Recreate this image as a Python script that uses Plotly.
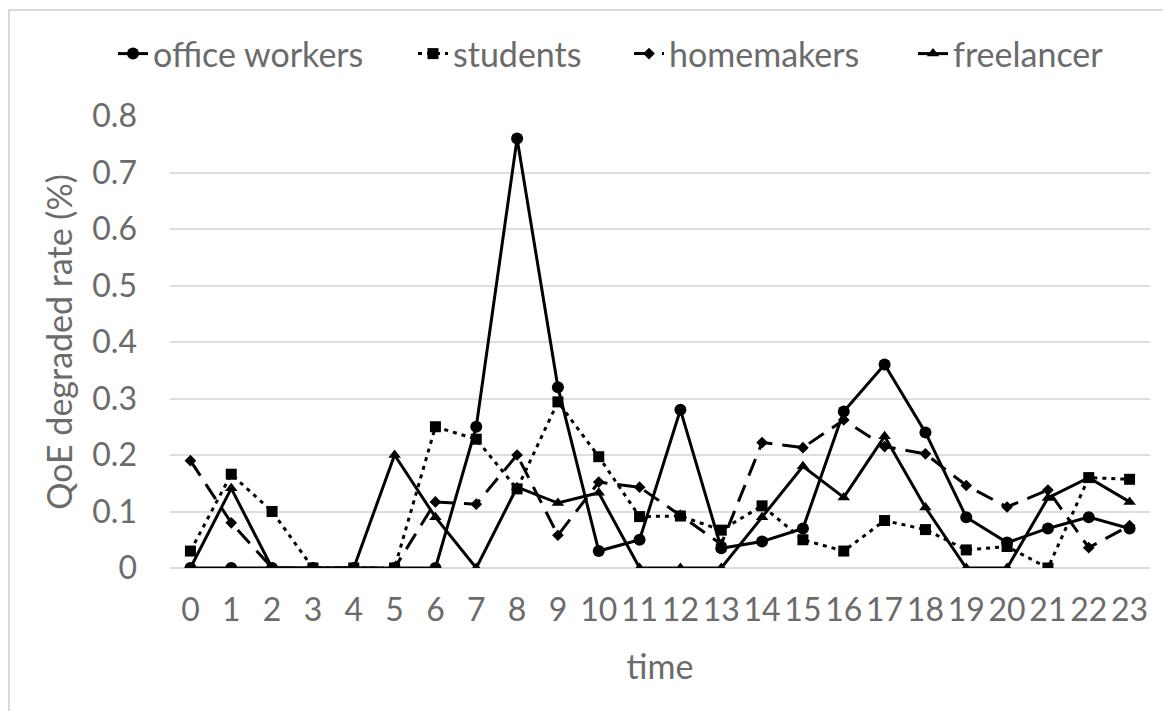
import plotly.graph_objects as go

# Hour of day (category axis)
hours = [str(h) for h in range(24)]

# QoE degraded rate (%) per user group
office_workers = [0, 0, 0, 0, 0, 0, 0, 0.25, 0.76, 0.32, 0.03, 0.05,
                  0.28, 0.035, 0.047, 0.07, 0.277, 0.36, 0.24, 0.09, 0.045, 0.07, 0.09, 0.07]
students = [0.03, 0.166, 0.1, 0, 0, 0, 0.25, 0.228, 0.14, 0.294, 0.197, 0.091,
            0.092, 0.067, 0.11, 0.05, 0.03, 0.084, 0.068, 0.032, 0.038, 0, 0.16, 0.157]
homemakers = [0.19, 0.08, 0, 0, 0, 0, 0.117, 0.113, 0.2, 0.058, 0.152, 0.143,
              0.093, 0.042, 0.222, 0.213, 0.262, 0.215, 0.202, 0.146, 0.108, 0.138, 0.036, 0.075]
freelancer = [0, 0.141, 0, 0, 0, 0.2, 0.09, 0, 0.143, 0.115, 0.133, 0,
              0, 0, 0.09, 0.18, 0.125, 0.233, 0.107, 0, 0, 0.124, 0.16, 0.117]

y_ticks = [0, 0.1, 0.2, 0.3, 0.4, 0.5, 0.6, 0.7, 0.8]
y_tick_text = ["0", "0.1", "0.2", "0.3", "0.4", "0.5", "0.6", "0.7", "0.8"]

INK = "black"
TEXT = "#6b6b6b"
GRID = "#dedede"
FONT = "Lato, 'Open Sans', sans-serif"
W, H = 1163, 711

# name, values, dash, marker symbol, marker size, legend id, legend left edge (px)
series = [
    ("office workers", office_workers, "solid", "circle", 12, "legend", 113),
    ("students", students, "4px,5px", "square", 11, "legend2", 413),
    ("homemakers", homemakers, "18px,10px", "diamond", 9, "legend3", 629),
    ("freelancer", freelancer, "solid", "triangle-up", 11, "legend4", 913),
]

fig = go.Figure()
legends = {}
for name, vals, dash, symbol, size, leg, left in series:
    fig.add_trace(go.Scatter(
        x=list(range(len(hours))), y=vals, name=name, mode="lines+markers",
        line=dict(color=INK, width=3, dash=dash),
        marker=dict(color=INK, symbol=symbol, size=size),
        legend=leg,
    ))
    legends[leg] = dict(
        orientation="h", xref="container", yref="container",
        x=left / W, xanchor="left", y=1 - 54 / H, yanchor="middle",
        font=dict(size=34, color=TEXT, family=FONT),
        bgcolor="rgba(0,0,0,0)",
    )

fig.update_layout(
    width=W, height=H,
    margin=dict(l=170, r=13, t=116, b=143),
    paper_bgcolor="white", plot_bgcolor="white",
    font=dict(family=FONT, color=TEXT, size=32),
    showlegend=True,
    **legends,
    xaxis=dict(
        range=[-0.5, 23.5], tickmode="array",
        tickvals=list(range(len(hours))), ticktext=hours,
        showgrid=False, zeroline=False, showline=False, ticks="",
        tickfont=dict(size=32, color=TEXT), ticklabelstandoff=20,
        title=dict(text="time", font=dict(size=34, color=TEXT), standoff=28),
    ),
    yaxis=dict(
        range=[0, 0.8], tickmode="array", tickvals=y_ticks, ticktext=y_tick_text,
        showgrid=True, gridcolor=GRID, gridwidth=2,
        zeroline=True, zerolinecolor=GRID, zerolinewidth=2,
        showline=False, ticks="",
        tickfont=dict(size=32, color=TEXT), ticklabelstandoff=32,
        title=dict(text="QoE degraded rate (%)", font=dict(size=34, color=TEXT), standoff=9),
    ),
    shapes=[dict(
        type="rect", xref="paper", yref="paper",
        x0=(9 - 170) / 980, x1=(1175 - 170) / 980,
        y0=(568 - 725) / 452, y1=(568 - 10) / 452,
        line=dict(color="#d9d9d9", width=2), fillcolor="rgba(0,0,0,0)", layer="below",
    )],
)

fig.write_html("out.html")
